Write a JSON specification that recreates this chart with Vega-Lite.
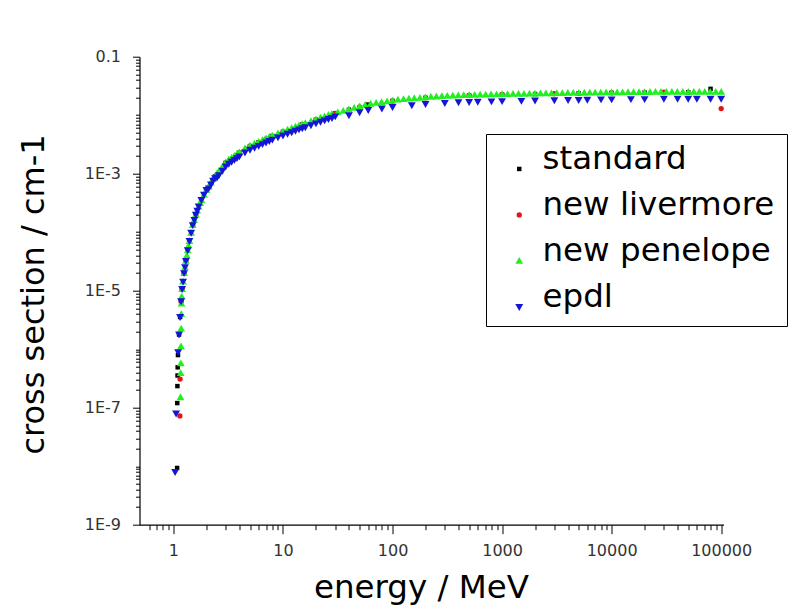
{
  "$schema": "https://vega.github.io/schema/vega-lite/v6.json",
  "autosize": {"type": "none"},
  "width": 584,
  "height": 468,
  "padding": {"left": 139.5, "top": 56.7, "right": 82.5, "bottom": 91.3},
  "background": "white",
  "config": {
    "view": {"stroke": null},
    "font": "DejaVu Sans"
  },
  "resolve": {"axis": {"x": "independent", "y": "independent"}},
  "layer": [
    {
      "data": {"values": [
        {"series":"standard","energy":1.080,"cs":9.33e-9},
        {"series":"standard","energy":1.084,"cs":1.20e-7},
        {"series":"standard","energy":1.087,"cs":2.34e-7},
        {"series":"standard","energy":1.090,"cs":3.55e-7},
        {"series":"standard","energy":1.093,"cs":4.90e-7},
        {"series":"standard","energy":1.10,"cs":7.94e-7},
        {"series":"standard","energy":1.125,"cs":1.78e-6},
        {"series":"standard","energy":1.15,"cs":3.55e-6},
        {"series":"standard","energy":1.175,"cs":6.61e-6},
        {"series":"standard","energy":1.2,"cs":1.07e-5},
        {"series":"standard","energy":1.25,"cs":2.00e-5},
        {"series":"standard","energy":1.3,"cs":3.24e-5},
        {"series":"standard","energy":1.35,"cs":4.90e-5},
        {"series":"standard","energy":1.4,"cs":7.08e-5},
        {"series":"standard","energy":1.5,"cs":1.32e-4},
        {"series":"standard","energy":1.6,"cs":2.00e-4},
        {"series":"standard","energy":1.8,"cs":3.55e-4},
        {"series":"standard","energy":2.0,"cs":5.25e-4},
        {"series":"standard","energy":2.4,"cs":9.00e-4},
        {"series":"standard","energy":3.0,"cs":1.53e-3},
        {"series":"standard","energy":4.0,"cs":2.28e-3},
        {"series":"standard","energy":5.0,"cs":2.96e-3},
        {"series":"standard","energy":6.0,"cs":3.45e-3},
        {"series":"standard","energy":8.0,"cs":4.40e-3},
        {"series":"standard","energy":10,"cs":5.18e-3},
        {"series":"standard","energy":15,"cs":6.90e-3},
        {"series":"standard","energy":20,"cs":8.35e-3},
        {"series":"standard","energy":30,"cs":1.07e-2},
        {"series":"standard","energy":40,"cs":1.24e-2},
        {"series":"standard","energy":60,"cs":1.52e-2},
        {"series":"standard","energy":100,"cs":1.75e-2},
        {"series":"standard","energy":200,"cs":1.98e-2},
        {"series":"standard","energy":500,"cs":2.17e-2},
        {"series":"standard","energy":1000,"cs":2.25e-2},
        {"series":"standard","energy":2000,"cs":2.30e-2},
        {"series":"standard","energy":5000,"cs":2.36e-2},
        {"series":"standard","energy":10000,"cs":2.41e-2},
        {"series":"standard","energy":20000,"cs":2.44e-2},
        {"series":"standard","energy":50000,"cs":2.47e-2},
        {"series":"standard","energy":80000,"cs":2.82e-2},

        {"series":"new livermore","energy":1.145,"cs":7.24e-8},
        {"series":"new livermore","energy":1.150,"cs":3.09e-7},
        {"series":"new livermore","energy":1.175,"cs":6.61e-6},
        {"series":"new livermore","energy":1.2,"cs":1.07e-5},
        {"series":"new livermore","energy":1.25,"cs":2.00e-5},
        {"series":"new livermore","energy":1.3,"cs":3.24e-5},
        {"series":"new livermore","energy":1.4,"cs":7.08e-5},
        {"series":"new livermore","energy":1.5,"cs":1.32e-4},
        {"series":"new livermore","energy":1.6,"cs":2.00e-4},
        {"series":"new livermore","energy":1.8,"cs":3.55e-4},
        {"series":"new livermore","energy":2.0,"cs":5.25e-4},
        {"series":"new livermore","energy":2.4,"cs":9.00e-4},
        {"series":"new livermore","energy":3.0,"cs":1.53e-3},
        {"series":"new livermore","energy":4.0,"cs":2.28e-3},
        {"series":"new livermore","energy":5.0,"cs":2.96e-3},
        {"series":"new livermore","energy":7.0,"cs":3.94e-3},
        {"series":"new livermore","energy":10,"cs":5.18e-3},
        {"series":"new livermore","energy":15,"cs":6.90e-3},
        {"series":"new livermore","energy":20,"cs":8.35e-3},
        {"series":"new livermore","energy":30,"cs":1.07e-2},
        {"series":"new livermore","energy":50,"cs":1.39e-2},
        {"series":"new livermore","energy":100,"cs":1.75e-2},
        {"series":"new livermore","energy":200,"cs":1.98e-2},
        {"series":"new livermore","energy":500,"cs":2.17e-2},
        {"series":"new livermore","energy":1000,"cs":2.25e-2},
        {"series":"new livermore","energy":3000,"cs":2.33e-2},
        {"series":"new livermore","energy":10000,"cs":2.41e-2},
        {"series":"new livermore","energy":30000,"cs":2.47e-2},
        {"series":"new livermore","energy":100000,"cs":1.30e-2},

        {"series":"new penelope","energy":1.160,"cs":1.51e-7},
        {"series":"new penelope","energy":1.165,"cs":3.89e-7},
        {"series":"new penelope","energy":1.168,"cs":5.75e-7},
        {"series":"new penelope","energy":1.172,"cs":1.12e-6},
        {"series":"new penelope","energy":1.176,"cs":2.24e-6},
        {"series":"new penelope","energy":1.180,"cs":3.98e-6},
        {"series":"new penelope","energy":1.185,"cs":6.03e-6},
        {"series":"new penelope","energy":1.190,"cs":7.94e-6},
        {"series":"new penelope","energy":1.200,"cs":1.07e-5},
        {"series":"new penelope","energy":1.225,"cs":1.43e-5},
        {"series":"new penelope","energy":1.25,"cs":2.00e-5},
        {"series":"new penelope","energy":1.275,"cs":2.51e-5},
        {"series":"new penelope","energy":1.30,"cs":3.24e-5},
        {"series":"new penelope","energy":1.325,"cs":3.98e-5},
        {"series":"new penelope","energy":1.35,"cs":4.90e-5},
        {"series":"new penelope","energy":1.375,"cs":5.89e-5},
        {"series":"new penelope","energy":1.40,"cs":7.08e-5},
        {"series":"new penelope","energy":1.45,"cs":9.77e-5},
        {"series":"new penelope","energy":1.50,"cs":1.32e-4},
        {"series":"new penelope","energy":1.55,"cs":1.62e-4},
        {"series":"new penelope","energy":1.60,"cs":2.00e-4},
        {"series":"new penelope","energy":1.65,"cs":2.34e-4},
        {"series":"new penelope","energy":1.70,"cs":2.75e-4},
        {"series":"new penelope","energy":1.75,"cs":3.13e-4},
        {"series":"new penelope","energy":1.80,"cs":3.55e-4},
        {"series":"new penelope","energy":1.90,"cs":4.37e-4},
        {"series":"new penelope","energy":2.0,"cs":5.25e-4},
        {"series":"new penelope","energy":2.1,"cs":6.01e-4},
        {"series":"new penelope","energy":2.2,"cs":7.03e-4},
        {"series":"new penelope","energy":2.3,"cs":8.22e-4},
        {"series":"new penelope","energy":2.4,"cs":9.14e-4},
        {"series":"new penelope","energy":2.5,"cs":1.010e-3},
        {"series":"new penelope","energy":2.6,"cs":1.107e-3},
        {"series":"new penelope","energy":2.8,"cs":1.318e-3},
        {"series":"new penelope","energy":3.0,"cs":1.556e-3},
        {"series":"new penelope","energy":3.2,"cs":1.738e-3},
        {"series":"new penelope","energy":3.4,"cs":1.879e-3},
        {"series":"new penelope","energy":3.6,"cs":2.023e-3},
        {"series":"new penelope","energy":3.8,"cs":2.173e-3},
        {"series":"new penelope","energy":4.0,"cs":2.323e-3},
        {"series":"new penelope","energy":4.5,"cs":2.710e-3},
        {"series":"new penelope","energy":5.0,"cs":3.013e-3},
        {"series":"new penelope","energy":5.5,"cs":3.266e-3},
        {"series":"new penelope","energy":6.0,"cs":3.516e-3},
        {"series":"new penelope","energy":6.5,"cs":3.767e-3},
        {"series":"new penelope","energy":7.0,"cs":4.009e-3},
        {"series":"new penelope","energy":7.5,"cs":4.246e-3},
        {"series":"new penelope","energy":8,"cs":4.487e-3},
        {"series":"new penelope","energy":9,"cs":4.898e-3},
        {"series":"new penelope","energy":10,"cs":5.284e-3},
        {"series":"new penelope","energy":11,"cs":5.649e-3},
        {"series":"new penelope","energy":12,"cs":6.012e-3},
        {"series":"new penelope","energy":13,"cs":6.383e-3},
        {"series":"new penelope","energy":14,"cs":6.714e-3},
        {"series":"new penelope","energy":15,"cs":7.031e-3},
        {"series":"new penelope","energy":16,"cs":7.328e-3},
        {"series":"new penelope","energy":18,"cs":7.925e-3},
        {"series":"new penelope","energy":20,"cs":8.511e-3},
        {"series":"new penelope","energy":22,"cs":9.057e-3},
        {"series":"new penelope","energy":24,"cs":9.594e-3},
        {"series":"new penelope","energy":26,"cs":1.009e-2},
        {"series":"new penelope","energy":28,"cs":1.052e-2},
        {"series":"new penelope","energy":31.6,"cs":1.122e-2},
        {"series":"new penelope","energy":35.5,"cs":1.191e-2},
        {"series":"new penelope","energy":39.8,"cs":1.262e-2},
        {"series":"new penelope","energy":44.7,"cs":1.340e-2},
        {"series":"new penelope","energy":50.1,"cs":1.419e-2},
        {"series":"new penelope","energy":56.2,"cs":1.507e-2},
        {"series":"new penelope","energy":63.1,"cs":1.570e-2},
        {"series":"new penelope","energy":70.8,"cs":1.622e-2},
        {"series":"new penelope","energy":79.4,"cs":1.675e-2},
        {"series":"new penelope","energy":89.1,"cs":1.730e-2},
        {"series":"new penelope","energy":100,"cs":1.782e-2},
        {"series":"new penelope","energy":112,"cs":1.841e-2},
        {"series":"new penelope","energy":126,"cs":1.884e-2},
        {"series":"new penelope","energy":141,"cs":1.919e-2},
        {"series":"new penelope","energy":158,"cs":1.950e-2},
        {"series":"new penelope","energy":178,"cs":1.986e-2},
        {"series":"new penelope","energy":200,"cs":2.018e-2},
        {"series":"new penelope","energy":224,"cs":2.056e-2},
        {"series":"new penelope","energy":251,"cs":2.089e-2},
        {"series":"new penelope","energy":282,"cs":2.123e-2},
        {"series":"new penelope","energy":316,"cs":2.148e-2},
        {"series":"new penelope","energy":355,"cs":2.168e-2},
        {"series":"new penelope","energy":398,"cs":2.188e-2},
        {"series":"new penelope","energy":447,"cs":2.203e-2},
        {"series":"new penelope","energy":501,"cs":2.213e-2},
        {"series":"new penelope","energy":562,"cs":2.228e-2},
        {"series":"new penelope","energy":631,"cs":2.244e-2},
        {"series":"new penelope","energy":708,"cs":2.254e-2},
        {"series":"new penelope","energy":794,"cs":2.265e-2},
        {"series":"new penelope","energy":891,"cs":2.280e-2},
        {"series":"new penelope","energy":1000,"cs":2.291e-2},
        {"series":"new penelope","energy":1122,"cs":2.301e-2},
        {"series":"new penelope","energy":1259,"cs":2.307e-2},
        {"series":"new penelope","energy":1413,"cs":2.317e-2},
        {"series":"new penelope","energy":1585,"cs":2.323e-2},
        {"series":"new penelope","energy":1778,"cs":2.333e-2},
        {"series":"new penelope","energy":1995,"cs":2.344e-2},
        {"series":"new penelope","energy":2239,"cs":2.355e-2},
        {"series":"new penelope","energy":2512,"cs":2.360e-2},
        {"series":"new penelope","energy":2818,"cs":2.366e-2},
        {"series":"new penelope","energy":3162,"cs":2.377e-2},
        {"series":"new penelope","energy":3548,"cs":2.388e-2},
        {"series":"new penelope","energy":3981,"cs":2.399e-2},
        {"series":"new penelope","energy":4467,"cs":2.404e-2},
        {"series":"new penelope","energy":5012,"cs":2.412e-2},
        {"series":"new penelope","energy":5623,"cs":2.421e-2},
        {"series":"new penelope","energy":6310,"cs":2.427e-2},
        {"series":"new penelope","energy":7079,"cs":2.432e-2},
        {"series":"new penelope","energy":7943,"cs":2.441e-2},
        {"series":"new penelope","energy":8913,"cs":2.449e-2},
        {"series":"new penelope","energy":10000,"cs":2.455e-2},
        {"series":"new penelope","energy":11220,"cs":2.460e-2},
        {"series":"new penelope","energy":12589,"cs":2.466e-2},
        {"series":"new penelope","energy":14125,"cs":2.472e-2},
        {"series":"new penelope","energy":15849,"cs":2.477e-2},
        {"series":"new penelope","energy":17783,"cs":2.483e-2},
        {"series":"new penelope","energy":19953,"cs":2.489e-2},
        {"series":"new penelope","energy":22387,"cs":2.495e-2},
        {"series":"new penelope","energy":25119,"cs":2.500e-2},
        {"series":"new penelope","energy":28184,"cs":2.506e-2},
        {"series":"new penelope","energy":31623,"cs":2.512e-2},
        {"series":"new penelope","energy":35481,"cs":2.512e-2},
        {"series":"new penelope","energy":39811,"cs":2.512e-2},
        {"series":"new penelope","energy":44668,"cs":2.512e-2},
        {"series":"new penelope","energy":50119,"cs":2.512e-2},
        {"series":"new penelope","energy":56234,"cs":2.512e-2},
        {"series":"new penelope","energy":63096,"cs":2.512e-2},
        {"series":"new penelope","energy":70795,"cs":2.512e-2},
        {"series":"new penelope","energy":79433,"cs":2.512e-2},
        {"series":"new penelope","energy":89125,"cs":2.512e-2},
        {"series":"new penelope","energy":100000,"cs":2.512e-2},

        {"series":"epdl","energy":1.036,"cs":7.94e-9},
        {"series":"epdl","energy":1.058,"cs":7.94e-8},
        {"series":"epdl","energy":1.104,"cs":8.91e-7},
        {"series":"epdl","energy":1.125,"cs":1.78e-6},
        {"series":"epdl","energy":1.15,"cs":3.55e-6},
        {"series":"epdl","energy":1.175,"cs":6.61e-6},
        {"series":"epdl","energy":1.2,"cs":1.07e-5},
        {"series":"epdl","energy":1.225,"cs":1.43e-5},
        {"series":"epdl","energy":1.25,"cs":2.00e-5},
        {"series":"epdl","energy":1.275,"cs":2.51e-5},
        {"series":"epdl","energy":1.3,"cs":3.24e-5},
        {"series":"epdl","energy":1.35,"cs":4.90e-5},
        {"series":"epdl","energy":1.4,"cs":7.08e-5},
        {"series":"epdl","energy":1.45,"cs":9.77e-5},
        {"series":"epdl","energy":1.5,"cs":1.32e-4},
        {"series":"epdl","energy":1.55,"cs":1.62e-4},
        {"series":"epdl","energy":1.6,"cs":2.00e-4},
        {"series":"epdl","energy":1.65,"cs":2.34e-4},
        {"series":"epdl","energy":1.7,"cs":2.75e-4},
        {"series":"epdl","energy":1.8,"cs":3.55e-4},
        {"series":"epdl","energy":1.9,"cs":4.37e-4},
        {"series":"epdl","energy":2.0,"cs":5.25e-4},
        {"series":"epdl","energy":2.1,"cs":5.60e-4},
        {"series":"epdl","energy":2.2,"cs":6.55e-4},
        {"series":"epdl","energy":2.3,"cs":7.60e-4},
        {"series":"epdl","energy":2.4,"cs":8.40e-4},
        {"series":"epdl","energy":2.5,"cs":8.59e-4},
        {"series":"epdl","energy":2.6,"cs":9.42e-4},
        {"series":"epdl","energy":2.8,"cs":1.122e-3},
        {"series":"epdl","energy":3.0,"cs":1.324e-3},
        {"series":"epdl","energy":3.2,"cs":1.479e-3},
        {"series":"epdl","energy":3.4,"cs":1.600e-3},
        {"series":"epdl","energy":3.6,"cs":1.722e-3},
        {"series":"epdl","energy":3.8,"cs":1.849e-3},
        {"series":"epdl","energy":4.0,"cs":1.977e-3},
        {"series":"epdl","energy":4.5,"cs":2.307e-3},
        {"series":"epdl","energy":5.0,"cs":2.564e-3},
        {"series":"epdl","energy":5.5,"cs":2.780e-3},
        {"series":"epdl","energy":6.0,"cs":2.992e-3},
        {"series":"epdl","energy":6.5,"cs":3.206e-3},
        {"series":"epdl","energy":7.0,"cs":3.412e-3},
        {"series":"epdl","energy":7.5,"cs":3.614e-3},
        {"series":"epdl","energy":8,"cs":3.819e-3},
        {"series":"epdl","energy":9,"cs":4.169e-3},
        {"series":"epdl","energy":10,"cs":4.498e-3},
        {"series":"epdl","energy":11,"cs":4.808e-3},
        {"series":"epdl","energy":12,"cs":5.117e-3},
        {"series":"epdl","energy":13,"cs":5.433e-3},
        {"series":"epdl","energy":14,"cs":5.715e-3},
        {"series":"epdl","energy":15,"cs":5.984e-3},
        {"series":"epdl","energy":16,"cs":6.237e-3},
        {"series":"epdl","energy":18,"cs":6.745e-3},
        {"series":"epdl","energy":20,"cs":7.244e-3},
        {"series":"epdl","energy":22,"cs":7.709e-3},
        {"series":"epdl","energy":24,"cs":8.166e-3},
        {"series":"epdl","energy":26,"cs":8.590e-3},
        {"series":"epdl","energy":28,"cs":8.954e-3},
        {"series":"epdl","energy":30,"cs":9.55e-3},
        {"series":"epdl","energy":40,"cs":1.00e-2},
        {"series":"epdl","energy":50,"cs":1.12e-2},
        {"series":"epdl","energy":60,"cs":1.23e-2},
        {"series":"epdl","energy":80,"cs":1.30e-2},
        {"series":"epdl","energy":100,"cs":1.38e-2},
        {"series":"epdl","energy":150,"cs":1.48e-2},
        {"series":"epdl","energy":200,"cs":1.55e-2},
        {"series":"epdl","energy":300,"cs":1.62e-2},
        {"series":"epdl","energy":400,"cs":1.66e-2},
        {"series":"epdl","energy":500,"cs":1.68e-2},
        {"series":"epdl","energy":600,"cs":1.70e-2},
        {"series":"epdl","energy":800,"cs":1.72e-2},
        {"series":"epdl","energy":1000,"cs":1.74e-2},
        {"series":"epdl","energy":1500,"cs":1.76e-2},
        {"series":"epdl","energy":2000,"cs":1.78e-2},
        {"series":"epdl","energy":3000,"cs":1.80e-2},
        {"series":"epdl","energy":4000,"cs":1.82e-2},
        {"series":"epdl","energy":5000,"cs":1.82e-2},
        {"series":"epdl","energy":6000,"cs":1.84e-2},
        {"series":"epdl","energy":8000,"cs":1.86e-2},
        {"series":"epdl","energy":10000,"cs":1.86e-2},
        {"series":"epdl","energy":15000,"cs":1.88e-2},
        {"series":"epdl","energy":20000,"cs":1.88e-2},
        {"series":"epdl","energy":30000,"cs":1.91e-2},
        {"series":"epdl","energy":40000,"cs":1.91e-2},
        {"series":"epdl","energy":50000,"cs":1.91e-2},
        {"series":"epdl","energy":60000,"cs":1.91e-2},
        {"series":"epdl","energy":80000,"cs":1.91e-2},
        {"series":"epdl","energy":100000,"cs":1.91e-2}
      ]},
      "mark": {"type": "point", "filled": true, "opacity": 1, "strokeWidth": 0},
      "encoding": {
        "x": {
          "field": "energy", "type": "quantitative",
          "scale": {"type": "log", "domain": [0.49, 105000], "nice": false},
          "axis": {
            "orient": "bottom",
            "values": [1, 10, 100, 1000, 10000, 100000],
            "format": "d",
            "grid": false,
            "domainColor": "black", "domainWidth": 1.2,
            "tickColor": "black", "tickSize": 9, "tickWidth": 1,
            "labelFont": "DejaVu Sans", "labelFontSize": 16, "labelColor": "#333333",
            "labelBaseline": "alphabetic", "labelPadding": 21.7, "labelFlush": false,
            "title": "energy / MeV",
            "titleFont": "DejaVu Sans", "titleFontSize": 32.5, "titleFontWeight": "normal", "titleColor": "black",
            "titleX": 281.5, "titleY": 73, "titleAlign": "center", "titleBaseline": "alphabetic"
          }
        },
        "y": {
          "field": "cs", "type": "quantitative",
          "scale": {"type": "log", "domain": [1e-9, 0.1], "nice": false},
          "axis": {
            "orient": "left",
            "values": [1e-9, 1e-7, 1e-5, 1e-3, 0.1],
            "labelExpr": "datum.value >= 0.05 ? '0.1' : '1E-' + round(-log(datum.value) / LN10)",
            "grid": false,
            "domainColor": "black", "domainWidth": 1.2,
            "tickColor": "black", "tickSize": 7, "tickWidth": 1,
            "labelFont": "DejaVu Sans", "labelFontSize": 16, "labelColor": "#333333",
            "labelPadding": 12, "labelFlush": false,
            "title": "cross section / cm-1",
            "titleFont": "DejaVu Sans", "titleFontSize": 32, "titleFontWeight": "normal", "titleColor": "black",
            "titleX": -96.5, "titleY": 237.3, "titleAngle": 270, "titleAlign": "center", "titleBaseline": "alphabetic"
          }
        },
        "color": {
          "field": "series", "type": "nominal",
          "scale": {"domain": ["standard", "new livermore", "new penelope", "epdl"], "range": ["#000000", "#e01515", "#22ee22", "#1515d5"]},
          "legend": {
            "orient": "none", "legendX": 346.5, "legendY": 77.3,
            "title": " ", "titleFontSize": 2, "titlePadding": 4.7,
            "strokeColor": "black", "fillColor": "white",
            "padding": 12, "rowPadding": 13,
            "labelFont": "DejaVu Sans", "labelFontSize": 32.5, "labelColor": "black", "labelLimit": 232,
            "labelOffset": 7, "labelBaseline": "alphabetic",
            "symbolSize": 24, "symbolStrokeWidth": 0, "symbolOffset": 5,
            "encode": {"labels": {"update": {"dy": {"value": 4}}}}
          }
        },
        "shape": {
          "field": "series", "type": "nominal",
          "scale": {"domain": ["standard", "new livermore", "new penelope", "epdl"], "range": ["square", "circle", "M0,-1L1,0.75L-1,0.75Z", "M0,1L1,-0.75L-1,-0.75Z"]}
        },
        "size": {
          "field": "series", "type": "nominal",
          "scale": {"type": "ordinal", "domain": ["standard", "new livermore", "new penelope", "epdl"], "range": [20, 28, 60, 62]},
          "legend": null
        }
      }
    },
    {
      "data": {"values": [{"energy": 10, "cs": 0.001}]},
      "mark": {"type": "point", "opacity": 0},
      "encoding": {
        "x": {
          "field": "energy", "type": "quantitative",
          "scale": {"type": "log", "domain": [0.49, 105000], "nice": false},
          "axis": {
            "orient": "bottom",
            "values": [0.6,0.7,0.8,0.9,2,3,4,5,6,7,8,9,20,30,40,50,60,70,80,90,200,300,400,500,600,700,800,900,2000,3000,4000,5000,6000,7000,8000,9000,20000,30000,40000,50000,60000,70000,80000,90000],
            "labels": false, "domain": false, "grid": false,
            "tickColor": "black", "tickSize": 5, "tickWidth": 1,
            "title": null
          }
        },
        "y": {
          "field": "cs", "type": "quantitative",
          "scale": {"type": "log", "domain": [1e-9, 0.1], "nice": false},
          "axis": {
            "orient": "left",
            "values": [2e-9,3e-9,4e-9,5e-9,6e-9,7e-9,8e-9,9e-9,1e-8,2e-8,3e-8,4e-8,5e-8,6e-8,7e-8,8e-8,9e-8,2e-7,3e-7,4e-7,5e-7,6e-7,7e-7,8e-7,9e-7,1e-6,2e-6,3e-6,4e-6,5e-6,6e-6,7e-6,8e-6,9e-6,2e-5,3e-5,4e-5,5e-5,6e-5,7e-5,8e-5,9e-5,1e-4,2e-4,3e-4,4e-4,5e-4,6e-4,7e-4,8e-4,9e-4,2e-3,3e-3,4e-3,5e-3,6e-3,7e-3,8e-3,9e-3,1e-2,2e-2,3e-2,4e-2,5e-2,6e-2,7e-2,8e-2,9e-2],
            "labels": false, "domain": false, "grid": false,
            "tickColor": "black", "tickSize": 4, "tickWidth": 1,
            "title": null
          }
        }
      }
    }
  ]
}
